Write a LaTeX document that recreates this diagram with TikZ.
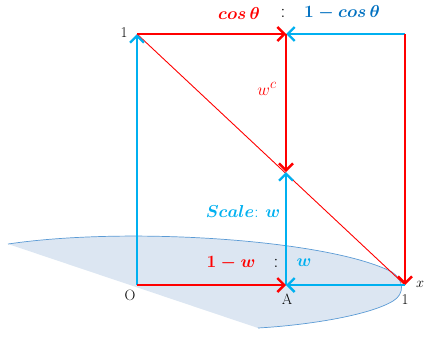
\documentclass[tikz,border=0pt]{standalone}
\usepackage{amsmath}
\usetikzlibrary{arrows.meta}
\definecolor{myred}{HTML}{FF0000}
\definecolor{mycyan}{HTML}{00B0F0}
\definecolor{mydblue}{HTML}{0070C0}
\definecolor{myfill}{HTML}{DCE6F2}
\definecolor{myedge}{HTML}{5B9BD5}
\tikzset{
  vec/.style={line width=2.6pt, -{Straight Barb[length=7pt,width=14pt,line width=2.4pt]}},
  redvec/.style={vec, draw=myred},
  bluevec/.style={vec, draw=mycyan},
  lbl/.style={inner sep=0pt, font=\fontsize{15}{17}\selectfont},
  big/.style={inner sep=0pt, font=\fontsize{19}{21}\selectfont\boldmath},
  mid/.style={inner sep=0pt, font=\fontsize{17}{19}\selectfont\boldmath},
}
\begin{document}
\begin{tikzpicture}[x=1pt,y=-1pt]
\useasboundingbox (0,0) rectangle (425,338);
% base disk
\fill[myfill] (8,244) .. controls (130,226) and (330,240) .. (392,272)
  .. controls (404,280) and (405,294) .. (393,301)
  .. controls (370,315) and (310,325) .. (258,328) -- cycle;
\draw[myedge, line width=0.7pt] (8,244) .. controls (130,226) and (330,240) .. (392,272)
  .. controls (404,280) and (405,294) .. (393,301)
  .. controls (370,315) and (310,325) .. (258,328);
% points
\coordinate (O) at (137,285);
\coordinate (T) at (137,34);
\coordinate (M) at (286,34);
\coordinate (R) at (405,34);
\coordinate (A) at (286,285);
\coordinate (X) at (405,285);
\coordinate (C) at (286,172);
% diagonal
\draw[myred, line width=0.9pt] (T) -- (X);
% vectors
\draw[bluevec] (O) -- (T);
\draw[redvec] (T) -- (M);
\draw[bluevec] (R) -- (M);
\draw[redvec] (R) -- (X);
\draw[redvec] (M) -- (C);
\draw[bluevec] (A) -- (C);
\draw[redvec] (O) -- (A);
\draw[bluevec] (X) -- (A);
% labels
\node[lbl] (l1t) at (124,33) {1};
\node[lbl] (lO) at (130,295) {O};
\node[lbl] (lA) at (287,299) {A};
\node[lbl] (l1x) at (405,300) {1};
\node[lbl] (lx) at (420,284) {$x$};
\node[big, text=myred] (cos) at (239,13) {$cos\,\theta$};
\node[big] (c1) at (283,13) {:};
\node[big, text=mydblue] (omc) at (342,13) {$1-cos\,\theta$};
\node[inner sep=0pt, font=\fontsize{19}{21}\selectfont, text=myred] (wc) at (267,89) {$w^{c}$};
\node[mid, text=mycyan] (sc) at (243,211) {$Scale$: $w$};
\node[big, text=myred] (omw) at (231,263) {$1-w$};
\node[big] (c2) at (276,263) {:};
\node[big, text=mycyan] (w) at (304,263) {$w$};
\end{tikzpicture}
\end{document}
